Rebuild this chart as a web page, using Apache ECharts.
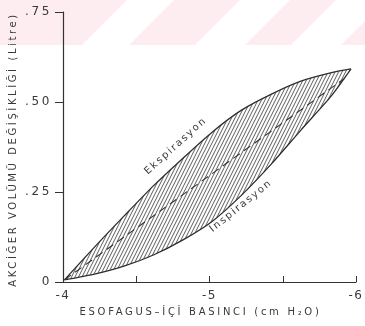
<!DOCTYPE html>
<html>
<head>
<meta charset="utf-8">
<script src="https://cdn.jsdelivr.net/npm/echarts@6/dist/echarts.min.js"></script>
<style>
html,body{margin:0;padding:0;background:#fff;}
#chart{width:365px;height:326px;}
</style>
</head>
<body>
<div id="chart"></div>
<script>
// ---- data ----
// Ekspirasyon (upper) branch: esophageal pressure (cm H2O), volume change (L)
const expPressure = [-4.01, -4.215, -4.416, -4.617, -4.819, -5.02, -5.221, -5.423, -5.624, -5.826, -5.966];
const expVolume   = [0.006, 0.097, 0.183, 0.267, 0.344, 0.417, 0.478, 0.522, 0.558, 0.581, 0.592];
// İnspirasyon (lower) branch
const inspPressure = [-4.01, -4.215, -4.416, -4.617, -4.819, -5.02, -5.221, -5.423, -5.624, -5.826, -5.966];
const inspVolume   = [0.006, 0.022, 0.044, 0.075, 0.117, 0.169, 0.242, 0.328, 0.422, 0.514, 0.592];
// dashed mean compliance line
const meanPressure = [-4.01, -5.92];
const meanVolume   = [0.006, 0.565];
// curve labels
const labelTexts    = ['Ekspirasyon', 'İnspirasyon'];
const labelPressure = [-4.77, -5.215];
const labelVolume   = [0.378, 0.211];
const labelAngle    = [42, 39];
// axis tick labels
const xTickValues = [-4, -5, -6];
const xTickLabels = ['-4', '-5', '-6'];
const yTickValues = [0, 0.25, 0.5, 0.75];
const yTickLabels = ['0', '.25', '.50', '.75'];
const xTitle = 'ESOFAGUS–İÇİ BASINCI (cm H₂O)';
const yTitle = 'AKCİĞER VOLÜMÜ DEĞİŞİKLİĞİ (Litre)';

// ---- wide tracking of the printed lettering (canvas letterSpacing) ----
const tracking = {};
tracking[xTitle] = '2.7px';
tracking[yTitle] = '2.6px';
tracking[labelTexts[0]] = '1.8px';
tracking[labelTexts[1]] = '1.8px';
xTickLabels.forEach(t => { tracking[t] = '1.5px'; });
(function () {
  const P = CanvasRenderingContext2D.prototype;
  const orig = P.fillText;
  P.fillText = function (t, x, y, w) {
    const ls = tracking[t];
    if (ls && 'letterSpacing' in this) {
      const prev = this.letterSpacing;
      this.letterSpacing = ls;
      const r = w === undefined ? orig.call(this, t, x, y) : orig.call(this, t, x, y, w);
      this.letterSpacing = prev;
      return r;
    }
    return w === undefined ? orig.call(this, t, x, y) : orig.call(this, t, x, y, w);
  };
})();

// ---- hatch pattern ----
const pat = document.createElement('canvas');
pat.width = 7; pat.height = 14;
const pctx = pat.getContext('2d');
pctx.strokeStyle = '#4a4a4a';
pctx.lineWidth = 0.9;
[-7, -3.5, 0, 3.5, 7].forEach(function (x0) {
  pctx.beginPath();
  pctx.moveTo(x0, 14);
  pctx.lineTo(x0 + 7, 0);
  pctx.stroke();
});

const zip = (xs, ys) => xs.map((x, i) => [x, ys[i]]);
const expData = zip(expPressure, expVolume);
const inspData = zip(inspPressure, inspVolume);
const meanData = zip(meanPressure, meanVolume);

const FONT = 'DejaVu Sans';
const INK = '#3a3a3a';

const chart = echarts.init(document.getElementById('chart'), null, {renderer: 'canvas'});

// faint pink scan watermark at the top
const pink = '#fdedf0';
const wm = [
  {type: 'rect', shape: {x: 0, y: 0, width: 365, height: 45}, style: {fill: pink}, z: -10},
  {type: 'polygon', shape: {points: [[127,0],[174,0],[129,45],[82,45]]}, style: {fill: '#fff'}, z: -9},
  {type: 'polygon', shape: {points: [[240,0],[290,0],[245,45],[195,45]]}, style: {fill: '#fff'}, z: -9},
  {type: 'polygon', shape: {points: [[336,0],[386,0],[341,45],[291,45]]}, style: {fill: '#fff'}, z: -9}
];

chart.setOption({
  animation: false,
  backgroundColor: '#fff',
  graphic: wm,
  grid: {left: 58, right: 9, top: 12, bottom: 44, containLabel: false},
  xAxis: {
    type: 'value', min: -6, max: -4, interval: 0.5, inverse: true,
    name: xTitle, nameLocation: 'middle', nameGap: 25,
    nameTextStyle: {fontFamily: FONT, fontSize: 10, color: INK, padding: [0, 18, 0, 0]},
    axisLine: {lineStyle: {color: '#333', width: 1.2}},
    axisTick: {inside: true, length: 6, lineStyle: {color: '#333', width: 1}},
    axisLabel: {
      margin: 8, fontFamily: FONT, fontSize: 12, color: INK,
      formatter: function (v) { const i = xTickValues.indexOf(v); return i >= 0 ? xTickLabels[i] : ''; }
    },
    splitLine: {show: false}
  },
  yAxis: {
    type: 'value', min: 0, max: 0.75, interval: 0.25,
    name: yTitle, nameLocation: 'middle', nameGap: 45, nameRotate: 90,
    nameTextStyle: {fontFamily: FONT, fontSize: 10, color: INK, padding: [0, 5, 0, 0]},
    axisLine: {show: true, lineStyle: {color: '#333', width: 1.2}},
    axisTick: {show: true, inside: false, length: 8, lineStyle: {color: '#333', width: 1}},
    axisLabel: {
      margin: 11, fontFamily: FONT, fontSize: 12, color: INK,
      formatter: function (v) { const i = yTickValues.findIndex(t => Math.abs(t - v) < 1e-9); return i >= 0 ? yTickLabels[i] : ''; }
    },
    splitLine: {show: false}
  },
  series: [
    {
      type: 'custom', name: 'hatch', coordinateSystem: 'cartesian2d',
      data: [[-5, 0.3]], z: 1, silent: true,
      renderItem: function (params, api) {
        const pts = expData.map(p => api.coord(p)).concat(inspData.slice().reverse().map(p => api.coord(p)));
        return {type: 'polygon', shape: {points: pts}, style: {fill: {image: pat, repeat: 'repeat'}, stroke: null}};
      }
    },
    {
      type: 'line', name: 'Ekspirasyon', data: expData, smooth: 0.25, symbol: 'none', z: 3,
      lineStyle: {color: '#2e2e2e', width: 1.3}
    },
    {
      type: 'line', name: 'İnspirasyon', data: inspData, smooth: 0.25, symbol: 'none', z: 3,
      lineStyle: {color: '#2e2e2e', width: 1.3}
    },
    {
      type: 'line', name: 'mean', data: meanData, symbol: 'none', z: 3,
      lineStyle: {color: '#333', width: 1.1, type: [8, 5]}
    },
    {
      type: 'custom', name: 'labels', coordinateSystem: 'cartesian2d', z: 4, silent: true,
      data: labelTexts.map((t, i) => [labelPressure[i], labelVolume[i], i]),
      renderItem: function (params, api) {
        const i = api.value(2);
        const c = api.coord([api.value(0), api.value(1)]);
        return {
          type: 'text', x: c[0], y: c[1], rotation: labelAngle[i] * Math.PI / 180,
          style: {text: labelTexts[i], fontFamily: FONT, fontSize: 10, fill: INK, align: 'center', verticalAlign: 'middle'}
        };
      }
    }
  ]
});
</script>
</body>
</html>
